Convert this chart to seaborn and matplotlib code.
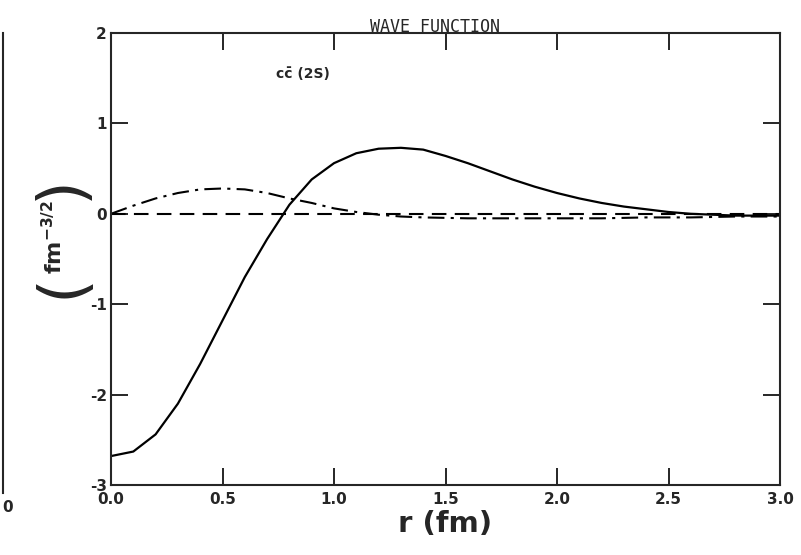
import numpy as np
import pandas as pd
import seaborn as sns
import matplotlib.pyplot as plt

#### Data
r_solid = [0.0, 0.1, 0.2, 0.3, 0.4, 0.5, 0.6, 0.7, 0.8, 0.9, 1.0, 1.1, 1.2, 1.3, 1.4, 1.5,
           1.6, 1.7, 1.8, 1.9, 2.0, 2.1, 2.2, 2.3, 2.4, 2.5, 2.6, 2.7, 2.8, 2.9, 3.0]
psi_solid = [-2.68, -2.63, -2.44, -2.10, -1.66, -1.18, -0.70, -0.28, 0.10, 0.38, 0.56, 0.67,
             0.72, 0.73, 0.71, 0.64, 0.56, 0.47, 0.38, 0.30, 0.23, 0.17, 0.12, 0.08, 0.05,
             0.02, 0.00, -0.01, -0.02, -0.02, -0.02]

r_dashdot = [0.0, 0.1, 0.2, 0.3, 0.4, 0.5, 0.6, 0.7, 0.8, 0.9, 1.0, 1.1, 1.2, 1.3, 1.4,
             1.6, 1.8, 2.0, 2.2, 2.4, 2.6, 2.8, 3.0]
psi_dashdot = [0.0, 0.09, 0.17, 0.23, 0.27, 0.28, 0.27, 0.23, 0.17, 0.12, 0.06, 0.02, -0.01,
               -0.03, -0.04, -0.05, -0.05, -0.05, -0.05, -0.04, -0.04, -0.03, -0.03]

r_zero = [0.0, 3.0]
psi_zero = [0.0, 0.0]

x_ticks = [0.0, 0.5, 1.0, 1.5, 2.0, 2.5, 3.0]
x_ticklabels = ['0.0', '0.5', '1.0', '1.5', '2.0', '2.5', '3.0']
y_ticks = [-3, -2, -1, 0, 1, 2]

#### Style
sns.set_style('ticks')
plt.rcParams['font.family'] = ['DejaVu Sans']
plt.rcParams['axes.unicode_minus'] = False

fig = plt.figure(figsize=(8.01, 5.55), dpi=100)
ax = fig.add_axes([111/801, 1-485/555, (780-111)/801, (485-33)/555])

sns.lineplot(x=r_solid, y=psi_solid, ax=ax, color='black', lw=1.6)
sns.lineplot(x=r_dashdot, y=psi_dashdot, ax=ax, color='black', lw=1.5).lines[-1].set_dashes([8, 3, 1.5, 3])
sns.lineplot(x=r_zero, y=psi_zero, ax=ax, color='black', lw=1.5).lines[-1].set_dashes([7, 4])

ax.set_xlim(0, 3)
ax.set_ylim(-3, 2)
ax.set_xticks(x_ticks)
ax.set_xticklabels(x_ticklabels, fontsize=11, fontweight='bold')
ax.set_yticks(y_ticks)
ax.set_yticklabels([str(v) for v in y_ticks], fontsize=11, fontweight='bold')
ax.tick_params(direction='in', length=12, width=1.4, top=True, right=True, pad=3)
ax.tick_params(axis='x', pad=5)
for s in ax.spines.values():
    s.set_linewidth(1.5)

ax.set_title('WAVE FUNCTION', x=0.484, pad=1, fontsize=12, family='DejaVu Sans Mono')
ax.text(0.74, 1.55, 'cc\u0304 (2S)', fontsize=10, fontweight='bold', va='center', ha='left')

ax.set_xlabel('r (fm)', fontsize=21, fontweight='bold', labelpad=2)

#### y label in pieces (big parens like the original lettering)
fig.text(62/801, 1-286/555, '(', rotation=90, fontsize=46,
         ha='center', va='center')
fig.text(62/801, 1-188/555, ')', rotation=90, fontsize=46,
         ha='center', va='center')
fig.text(54/801, 1-237/555, r'$\mathbf{fm}^{\mathbf{-3/2}}$', rotation=90, fontsize=16,
         ha='center', va='center')

#### edge of the neighbouring panel
ax2 = fig.add_axes([-0.2, 1-493/555, 0.2 + 3/801, (493-33)/555])
ax2.set_xticks([])
ax2.set_yticks([])
for k in ['left', 'top', 'bottom']:
    ax2.spines[k].set_visible(False)
ax2.spines['right'].set_linewidth(1.5)
fig.text(8/801, 1-507/555, '0', fontsize=11, fontweight='bold', ha='center', va='center')

fig.savefig('out.png', dpi=100)
